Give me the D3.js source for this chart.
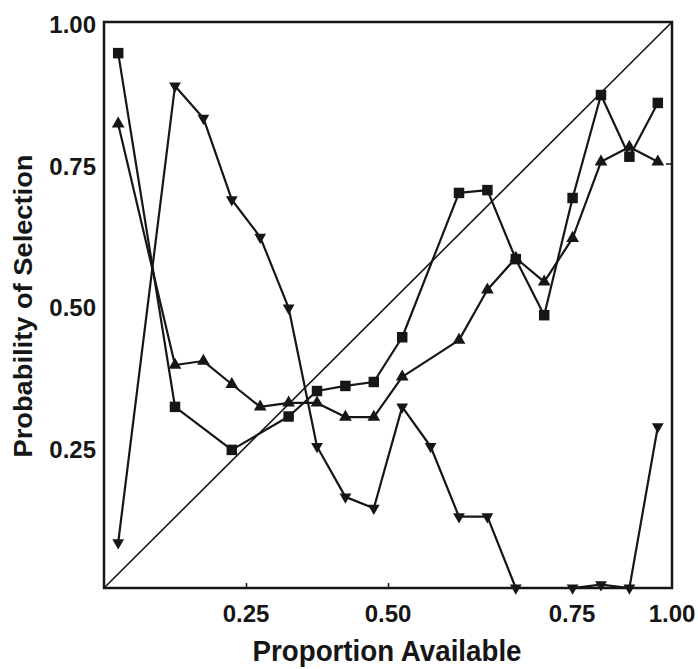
<!DOCTYPE html>
<html>
<head>
<meta charset="utf-8">
<script src="https://cdn.jsdelivr.net/npm/d3@7"></script>
<style>
	body { margin: 0; background: #fff; }
	svg { display: block; }
	.tick-label { font-family: "Liberation Sans", Arial, sans-serif; font-weight: bold; font-size: 24px; fill: #161616; }
	.axis-title { font-family: "Liberation Sans", Arial, sans-serif; font-weight: bold; fill: #161616; }
</style>
</head>
<body>
<script>
// proportion available (bin midpoints)
const squareX = [0.025, 0.125, 0.225, 0.325, 0.375, 0.425, 0.475, 0.525, 0.625, 0.675, 0.725, 0.775, 0.825, 0.875, 0.925, 0.975];
const squareY = [0.945, 0.320, 0.244, 0.303, 0.348, 0.357, 0.364, 0.443, 0.698, 0.703, 0.581, 0.482, 0.689, 0.871, 0.762, 0.857];

const upX = [0.025, 0.125, 0.175, 0.225, 0.275, 0.325, 0.375, 0.425, 0.475, 0.525, 0.625, 0.675, 0.725, 0.775, 0.825, 0.875, 0.925, 0.975];
const upY = [0.820, 0.394, 0.401, 0.360, 0.320, 0.327, 0.327, 0.302, 0.302, 0.373, 0.438, 0.527, 0.583, 0.541, 0.618, 0.753, 0.779, 0.753];

const downX = [0.025, 0.125, 0.175, 0.225, 0.275, 0.325, 0.375, 0.425, 0.475, 0.525, 0.575, 0.625, 0.675, 0.725, 0.825, 0.875, 0.925, 0.975];
const downY = [0.080, 0.887, 0.830, 0.686, 0.620, 0.495, 0.250, 0.161, 0.141, 0.320, 0.250, 0.126, 0.126, 0.000, 0.000, 0.006, 0.000, 0.285];

const tickValues = [0.25, 0.5, 0.75, 1.0];
const xTitle = "Proportion Available";
const yTitle = "Probability of Selection";

const width = 698, height = 669;
const margin = { top: 22, right: 26, bottom: 81, left: 104 };

const svg = d3.select("body").append("svg")
	.attr("width", width)
	.attr("height", height);

const x = d3.scaleLinear().domain([0, 1]).range([margin.left, width - margin.right]);
const y = d3.scaleLinear().domain([0, 1]).range([height - margin.bottom, margin.top]);

// frame
svg.append("rect")
	.attr("x", x(0)).attr("y", y(1))
	.attr("width", x(1) - x(0)).attr("height", y(0) - y(1))
	.attr("fill", "none").attr("stroke", "#161616").attr("stroke-width", 2.5);

// small inward ticks
svg.append("g")
	.attr("transform", "translate(0," + y(0) + ")")
	.call(d3.axisBottom(x).tickValues([0.25, 0.5]).tickSize(-5).tickFormat(""))
	.call(g => g.select(".domain").remove())
	.selectAll("line").attr("stroke", "#161616").attr("stroke-width", 1.5);
svg.append("g")
	.attr("transform", "translate(" + x(1) + ",0)")
	.call(d3.axisRight(y).tickValues([0.75]).tickSize(-6).tickFormat(""))
	.call(g => g.select(".domain").remove())
	.selectAll("line").attr("stroke", "#161616").attr("stroke-width", 1.5);

// tick labels
svg.append("g").selectAll("text")
	.data(tickValues)
	.join("text")
	.attr("class", "tick-label")
	.attr("x", d => x(d) + (d === 0.75 ? 42 : 0)) // the original prints 0.75 off to the right
	.attr("y", 622)
	.attr("text-anchor", "middle")
	.text(d3.format(".2f"));

svg.append("g").selectAll("text")
	.data(tickValues)
	.join("text")
	.attr("class", "tick-label")
	.attr("x", 96)
	.attr("y", d => y(d) + 11)
	.attr("text-anchor", "end")
	.text(d3.format(".2f"));

// axis titles
svg.append("text")
	.attr("class", "axis-title")
	.attr("x", 387)
	.attr("y", 661)
	.attr("text-anchor", "middle")
	.attr("font-size", 30)
	.attr("textLength", 269)
	.attr("lengthAdjust", "spacingAndGlyphs")
	.text(xTitle);

svg.append("text")
	.attr("class", "axis-title")
	.attr("transform", "translate(32,306) rotate(-90)")
	.attr("text-anchor", "middle")
	.attr("font-size", 26)
	.attr("textLength", 303)
	.attr("lengthAdjust", "spacingAndGlyphs")
	.text(yTitle);

// reference diagonal
svg.append("line")
	.attr("x1", x(0)).attr("y1", y(0))
	.attr("x2", x(1)).attr("y2", y(1))
	.attr("stroke", "#161616").attr("stroke-width", 1.6);

const line = d3.line().x(d => x(d[0])).y(d => y(d[1]));

const series = [
	{ xs: squareX, ys: squareY, symbol: d3.symbolSquare, size: 110, rotate: 0 },
	{ xs: upX, ys: upY, symbol: d3.symbolTriangle, size: 70, rotate: 0 },
	{ xs: downX, ys: downY, symbol: d3.symbolTriangle, size: 60, rotate: 180 }
];

series.forEach(s => {
	const pts = s.xs.map((v, i) => [v, s.ys[i]]);
	svg.append("path")
		.datum(pts)
		.attr("d", line)
		.attr("fill", "none")
		.attr("stroke", "#161616")
		.attr("stroke-width", 2.2)
		.attr("stroke-linejoin", "round");
	svg.append("g").selectAll("path")
		.data(pts)
		.join("path")
		.attr("d", d3.symbol().type(s.symbol).size(s.size))
		.attr("transform", d => "translate(" + x(d[0]) + "," + y(d[1]) + ") rotate(" + s.rotate + ")")
		.attr("fill", "#161616");
});
</script>
</body>
</html>
